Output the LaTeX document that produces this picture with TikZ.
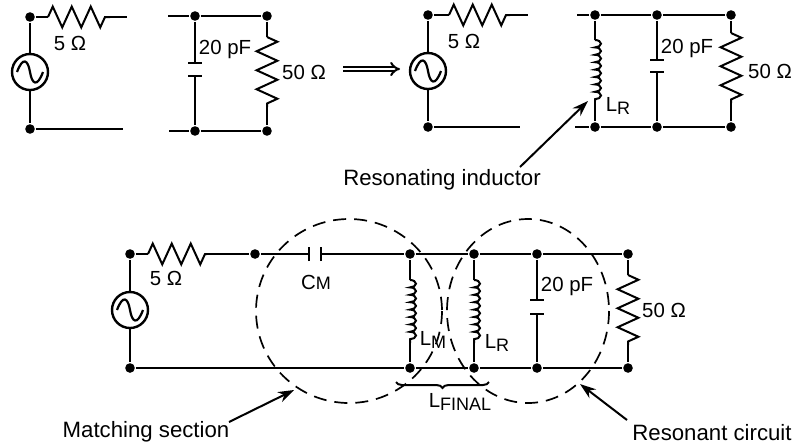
\documentclass[tikz,border=0pt]{standalone}
\usepackage{fontspec}
\setmainfont{Liberation Sans}
\usetikzlibrary{arrows.meta,decorations.pathmorphing,decorations.pathreplacing}
\newcommand{\lowtxt}[1]{\raisebox{-0.35ex}{\small #1}}
\tikzset{
  dot/.style={circle, fill=black, inner sep=0pt, minimum size=4.8pt},
  source/.style={circle, draw, line width=1.2pt, inner sep=0pt, minimum size=18pt},
  resistor/.style={decorate, decoration={zigzag, segment length=9.5pt, amplitude=5.2pt, post length=1pt}},
  inductor/.style={decorate, decoration={bumps, segment length=7.4pt, amplitude=3pt}},
  plate/.style={line width=1.2pt},
  zone/.style={dashed, dash pattern=on 6.5pt off 4pt, line width=.85pt},
  lbl/.style={font=\fontsize{10.2}{12}\selectfont, inner sep=0pt},
  capt/.style={font=\fontsize{11.1}{13}\selectfont, inner sep=0pt}
}
\begin{document}
\begin{tikzpicture}[x=.5pt, y=-.5pt, >={Stealth[length=8pt,width=5.5pt]}, line width=1pt]
    \useasboundingbox (0,0) rectangle (797,446);

    % Junctions
    \foreach \name/\x/\y in {a1/30/17, a2/30/129, a3/195/16, a4/267/16, a5/195/131, a6/267/131,
        b1/428/15, b2/428/127, b3/595/15, b4/657/15, b5/731/15, b6/595/127, b7/657/127, b8/731/127,
        c1/130/254, c2/255/254, c3/410/254, c4/474/254, c5/537/254, c6/628/254,
        c7/130/368, c8/410/368, c9/474/368, c10/537/368, c11/628/368}
      \node[dot] (\name) at (\x,\y) {};

    % Ends of the open wires and of the parts
    \foreach \name/\x/\y in {ar1/48/17, ar2/110/17, ae1/127/17, ae2/123/129, ae3/168/16, ae4/169/131,
        ac1/195/63, ac2/195/76, ar3/267/37, ar4/267/107, aa1/343/69, aa2/400/69,
        br1/449/15, br2/510/15, be1/528/15, be2/520/127, be3/577/15, be4/575/127,
        bl1/595/40, bl2/595/101, bc1/657/60, bc2/657/72, br3/731/33, br4/731/103,
        cr1/148/254, cr2/207/254, cc1/309/254, cc2/321/254, cl1/410/280, cl2/410/343, cl3/474/280, cl4/474/343,
        cc3/537/300, cc4/537/314, cr3/628/275, cr4/628/345,
        ba1/520/167, ba2/588/101, ca1/229/422, ca2/294/390, ca3/627/420, ca4/580/384, cb1/396/382, cb2/489/382}
      \coordinate (\name) at (\x,\y);

    % Sources
    \node[source] (as) at (30,72) {};
    \node[source] (bs) at (428,71) {};
    \node[source] (cs) at (130,310) {};
    \foreach \s in {as,bs,cs}
      \draw[line width=1.1pt] ([xshift=-6.5pt]\s.center) .. controls ([xshift=-3.5pt,yshift=8pt]\s.center) and ([xshift=-1pt,yshift=6pt]\s.center) .. (\s.center)
        .. controls ([xshift=1pt,yshift=-6pt]\s.center) and ([xshift=3.5pt,yshift=-8pt]\s.center) .. ([xshift=6.5pt]\s.center);

    % Upper left circuit
    \draw (a1) -- (as);
    \draw (as) -- (a2);
    \draw (a1) -- (ar1);
    \draw[resistor] (ar1) -- (ar2);
    \draw (ar2) -- (ae1);
    \draw (a2) -- (ae2);
    \draw[line width=1.3pt] (ae3) -- (a3) -- (a4);
    \draw[line width=1.3pt] (ae4) -- (a5) -- (a6);
    \draw[plate] (a3) -- (ac1);
    \draw[plate] (ac2) -- (a5);
    \draw[plate] ([xshift=-3.5pt]ac1) -- ([xshift=3.5pt]ac1);
    \draw[plate] ([xshift=-3.5pt]ac2) -- ([xshift=3.5pt]ac2);
    \draw (a4) -- (ar3);
    \draw[resistor] (ar3) -- (ar4);
    \draw (ar4) -- (a6);
    \draw[-{Implies}, double, double distance=1.3pt, line width=1pt] (aa1) -- (aa2);

    % Upper right circuit
    \draw (b1) -- (bs);
    \draw (bs) -- (b2);
    \draw (b1) -- (br1);
    \draw[resistor] (br1) -- (br2);
    \draw (br2) -- (be1);
    \draw[line width=1.3pt] (b2) -- (be2);
    \draw (be3) -- (b3) -- (b4) -- (b5);
    \draw[line width=1.3pt] (be4) -- (b6) -- (b7) -- (b8);
    \draw (b3) -- (bl1);
    \draw[inductor] (bl1) -- (bl2);
    \draw (bl2) -- (b6);
    \draw[plate] (b4) -- (bc1);
    \draw[plate] (bc2) -- (b7);
    \draw[plate] ([xshift=-3.5pt]bc1) -- ([xshift=3.5pt]bc1);
    \draw[plate] ([xshift=-3.5pt]bc2) -- ([xshift=3.5pt]bc2);
    \draw (b5) -- (br3);
    \draw[resistor] (br3) -- (br4);
    \draw (br4) -- (b8);
    \draw[->] (ba1) -- (ba2);

    % Lower circuit
    \draw (c1) -- (cs);
    \draw (cs) -- (c7);
    \draw (c1) -- (cr1);
    \draw[resistor] (cr1) -- (cr2);
    \draw (cr2) -- (c2) -- (cc1);
    \draw (cc2) -- (c3) -- (c4) -- (c5) -- (c6);
    \draw (c7) -- (c8) -- (c9) -- (c10) -- (c11);
    \draw[plate] ([yshift=-3.5pt]cc1) -- ([yshift=3.5pt]cc1);
    \draw[plate] ([yshift=-3.5pt]cc2) -- ([yshift=3.5pt]cc2);
    \draw (c3) -- (cl1);
    \draw[inductor] (cl1) -- (cl2);
    \draw (cl2) -- (c8);
    \draw (c4) -- (cl3);
    \draw[inductor] (cl3) -- (cl4);
    \draw (cl4) -- (c9);
    \draw[plate] (c5) -- (cc3);
    \draw[plate] (cc4) -- (c10);
    \draw[plate] ([xshift=-3.5pt]cc3) -- ([xshift=3.5pt]cc3);
    \draw[plate] ([xshift=-3.5pt]cc4) -- ([xshift=3.5pt]cc4);
    \draw (c6) -- (cr3);
    \draw[resistor] (cr3) -- (cr4);
    \draw (cr4) -- (c11);

    % Dashed zones
    \draw[zone] (349,311) ellipse [x radius=93, y radius=92];
    \draw[zone] (528,311) ellipse [x radius=81, y radius=92];

    % Brace
    \draw[decorate, decoration={brace, mirror, amplitude=3pt}] (cb1) -- (cb2);

    % Arrows to the sections
    \draw[->] (ca1) -- (ca2);
    \draw[->] (ca3) -- (ca4);

    % Labels
    \node[lbl] (ares) at (70,43) {5 Ω};
    \node[lbl] (acap) at (225,49) {20 pF};
    \node[lbl] (aval) at (304,72) {50 Ω};
    \node[lbl] (bres) at (464,41) {5 Ω};
    \node[lbl] (bind) at (618,106) {L\lowtxt{R}};
    \node[lbl] (bcap) at (687,48) {20 pF};
    \node[lbl] (bval) at (770,71) {50 Ω};
    \node[lbl] (cres) at (166,278) {5 Ω};
    \node[lbl] (ccm) at (316,282) {C{\small M}};
    \node[lbl] (clm) at (433,340) {L\lowtxt{M}};
    \node[lbl] (clr) at (497,343) {L\lowtxt{R}};
    \node[lbl] (ccap) at (567,286) {20 pF};
    \node[lbl] (cval) at (664,310) {50 Ω};
    \node[lbl] (clf) at (460,402) {L\lowtxt{FINAL}};
    \node[capt] (tres) at (442,180) {Resonating inductor};
    \node[capt] (tmat) at (146,432) {Matching section};
    \node[capt] (tcir) at (712,433) {Resonant circuit};
\end{tikzpicture}
\end{document}
